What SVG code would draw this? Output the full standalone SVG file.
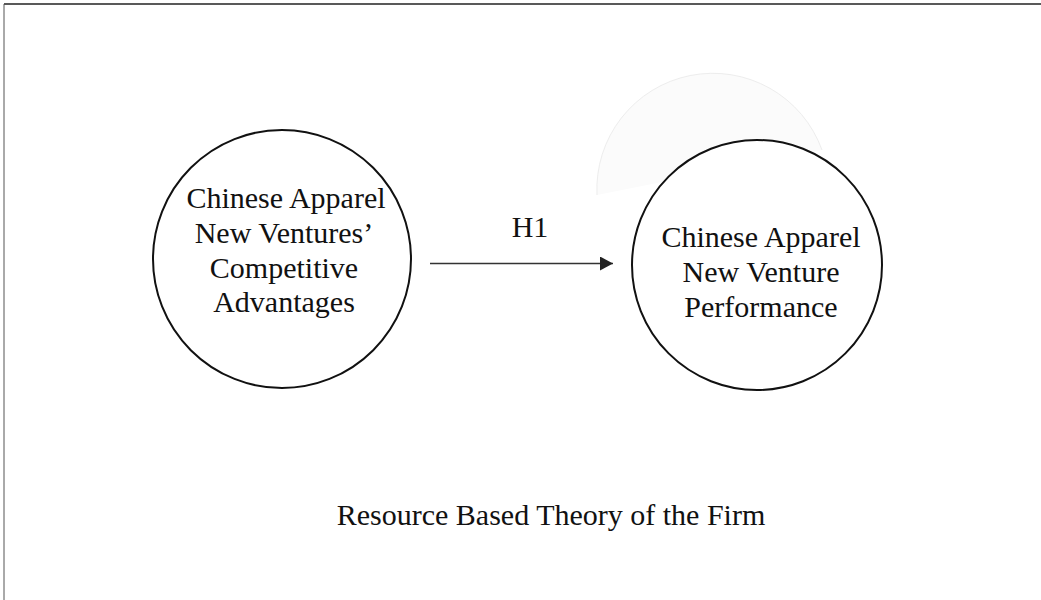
<svg xmlns="http://www.w3.org/2000/svg" width="1041" height="600" viewBox="0 0 1041 600">
  <style>
    .lbl { font-family: "Liberation Serif", "Times New Roman", serif; font-size: 30px; fill: #111; text-anchor: middle; }
    .node { fill: #fff; stroke: #111; stroke-width: 2; }
  </style>
  <defs>
    <marker id="arrow" markerWidth="14" markerHeight="14" refX="13" refY="7" orient="auto" markerUnits="userSpaceOnUse">
      <path d="M0,0 L13,7 L0,14 Z" fill="#222"/>
    </marker>
  </defs>
  <rect width="1041" height="600" fill="#fff"/>
  <!-- frame -->
  <line x1="4" y1="4" x2="1041" y2="4" stroke="#222" stroke-width="1.5"/>
  <line x1="4" y1="4" x2="4" y2="600" stroke="#555" stroke-width="1"/>

  <!-- faint ghost arc behind the performance node -->
  <path d="M597,195 A116,116 0 0 1 822,150" fill="#fbfbfb" stroke="#ededed" stroke-width="1"/>

  <g id="node-advantages">
    <circle class="node" cx="282" cy="259" r="129"/>
    <text class="lbl" x="286" y="208">Chinese Apparel</text>
    <text class="lbl" x="284" y="243">New Ventures’</text>
    <text class="lbl" x="284" y="278">Competitive</text>
    <text class="lbl" x="284" y="312">Advantages</text>
  </g>

  <g id="node-performance">
    <circle class="node" cx="757" cy="265" r="125"/>
    <text class="lbl" x="761" y="247">Chinese Apparel</text>
    <text class="lbl" x="761" y="282">New Venture</text>
    <text class="lbl" x="761" y="317">Performance</text>
  </g>

  <g id="connectors">
    <line x1="430" y1="263.5" x2="613" y2="263.5" stroke="#333" stroke-width="1.5" marker-end="url(#arrow)"/>
    <text class="lbl" x="530" y="237">H1</text>
  </g>

  <text id="caption" class="lbl" x="551" y="525">Resource Based Theory of the Firm</text>
</svg>
